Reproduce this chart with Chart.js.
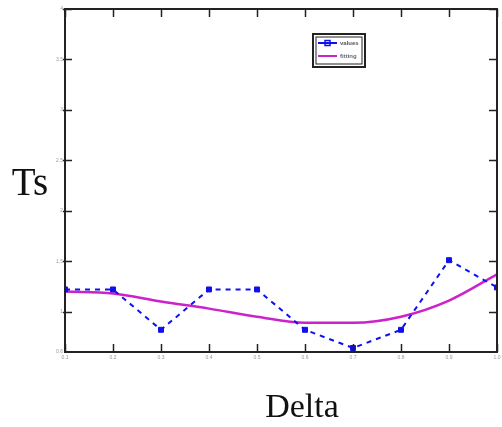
<!DOCTYPE html>
<html><head><meta charset="utf-8">
<script src="https://cdn.jsdelivr.net/npm/chart.js@4.4.1/dist/chart.umd.min.js"></script>
<style>html,body{margin:0;padding:0;background:#fff}#w{width:502px;height:427px}</style>
</head><body><div id="w"><canvas id="c"></canvas></div>
<script>
const deltaValues = [0.1, 0.2, 0.3, 0.4, 0.5, 0.6, 0.7, 0.8, 0.9, 1.0];
const tsValues = [1.22, 1.22, 0.82, 1.22, 1.22, 0.82, 0.64, 0.82, 1.51, 1.24];
const fitValues = [1.2, 1.18, 1.1, 1.03, 0.95, 0.89, 0.89, 0.95, 1.11, 1.37];
const yTickValues = [0.6, 1, 1.5, 2, 2.5, 3, 3.5, 4];
const xTickValues = [0.1, 0.2, 0.3, 0.4, 0.5, 0.6, 0.7, 0.8, 0.9, 1.0];
const seriesLabels = ['values', 'fitting'];
const xTitle = 'Delta';
const yTitle = 'Ts';

const framePlugin = {
  id: 'frame',
  afterDatasetsDraw(chart) {
    const {ctx, chartArea: a, scales: {x, y}} = chart;
    ctx.save();
    ctx.strokeStyle = '#222';
    ctx.lineWidth = 2;
    ctx.strokeRect(a.left, a.top, a.right - a.left, a.bottom - a.top);
    ctx.lineWidth = 1.5;
    ctx.beginPath();
    xTickValues.forEach(v => {
      const px = Math.round(x.getPixelForValue(v)) + 0.5;
      ctx.moveTo(px, a.bottom); ctx.lineTo(px, a.bottom - 8);
      ctx.moveTo(px, a.top); ctx.lineTo(px, a.top + 8);
    });
    yTickValues.forEach(v => {
      if (v === yTickValues[0]) return;
      const py = Math.round(y.getPixelForValue(v)) + 0.5;
      ctx.moveTo(a.left - 2, py); ctx.lineTo(a.left + 7, py);
      ctx.moveTo(a.right, py); ctx.lineTo(a.right - 8, py);
    });
    ctx.stroke();
    // legend
    const lx = 313, ly = 34, lw = 52, lh = 33;
    ctx.fillStyle = '#fff';
    ctx.fillRect(lx, ly, lw, lh);
    ctx.lineWidth = 2; ctx.strokeStyle = '#222';
    ctx.strokeRect(lx, ly, lw, lh);
    ctx.lineWidth = 1; ctx.strokeRect(lx + 3, ly + 3, lw - 6, lh - 6);
    const ds = chart.data.datasets;
    ctx.font = 'bold 6px "Liberation Sans"';
    ctx.textBaseline = 'middle';
    ctx.strokeStyle = ds[0].borderColor; ctx.lineWidth = 2;
    ctx.beginPath(); ctx.moveTo(lx + 5, ly + 9); ctx.lineTo(lx + 24, ly + 9); ctx.stroke();
    ctx.lineWidth = 1.5; ctx.strokeRect(lx + 12, ly + 6.5, 5, 5);
    ctx.fillStyle = '#556'; ctx.fillText(ds[0].label, lx + 27, ly + 9);
    ctx.strokeStyle = ds[1].borderColor; ctx.lineWidth = 2;
    ctx.beginPath(); ctx.moveTo(lx + 5, ly + 22); ctx.lineTo(lx + 24, ly + 22); ctx.stroke();
    ctx.fillStyle = '#667'; ctx.fillText(ds[1].label, lx + 27, ly + 22);
    // axis titles
    ctx.fillStyle = '#111';
    ctx.textAlign = 'center'; ctx.textBaseline = 'alphabetic';
    ctx.font = '39px "Liberation Serif"';
    ctx.fillText(yTitle, 30, 195);
    ctx.font = '34px "Liberation Serif"';
    ctx.fillText(xTitle, 302, 417);
    ctx.restore();
  }
};

new Chart(document.getElementById('c'), {
  type: 'line',
  data: {
    datasets: [
      {
        label: seriesLabels[0],
        data: deltaValues.map((d, i) => ({x: d, y: tsValues[i]})),
        borderColor: '#1010ee',
        backgroundColor: '#1010ee',
        borderWidth: 2,
        borderDash: [5, 5],
        pointStyle: 'rect',
        pointRadius: 3.5,
        pointBorderWidth: 1,
        tension: 0
      },
      {
        label: seriesLabels[1],
        data: deltaValues.map((d, i) => ({x: d, y: fitValues[i]})),
        borderColor: '#cc22cc',
        backgroundColor: '#cc22cc',
        borderWidth: 2.5,
        pointRadius: 0,
        cubicInterpolationMode: 'monotone'
      }
    ]
  },
  options: {
    responsive: true,
    maintainAspectRatio: false,
    animation: false,
    layout: {padding: {top: 9, right: 0, left: 0, bottom: 0}},
    plugins: {legend: {display: false}, tooltip: {enabled: false}},
    scales: {
      x: {
        type: 'linear', min: 0.1, max: 1.0,
        afterBuildTicks: s => { s.ticks = xTickValues.map(v => ({value: v})); },
        afterFit: s => { s.height = 75; s.paddingRight = 0; s.paddingLeft = 0; },
        grid: {display: false, drawTicks: false},
        border: {display: false},
        ticks: {font: {size: 5, family: 'Liberation Sans'}, color: '#999', padding: 3, maxRotation: 0,
          callback: v => Number(v).toFixed(1)}
      },
      y: {
        type: 'linear', min: 0.6, max: 4,
        afterBuildTicks: s => { s.ticks = yTickValues.map(v => ({value: v})); },
        afterFit: s => { s.width = 65; s.paddingTop = 0; s.paddingBottom = 0; },
        grid: {display: false, drawTicks: false},
        border: {display: false},
        ticks: {font: {size: 5, family: 'Liberation Sans'}, color: '#999', padding: 2,
          callback: v => String(v)}
      }
    }
  },
  plugins: [framePlugin]
});
</script></body></html>
